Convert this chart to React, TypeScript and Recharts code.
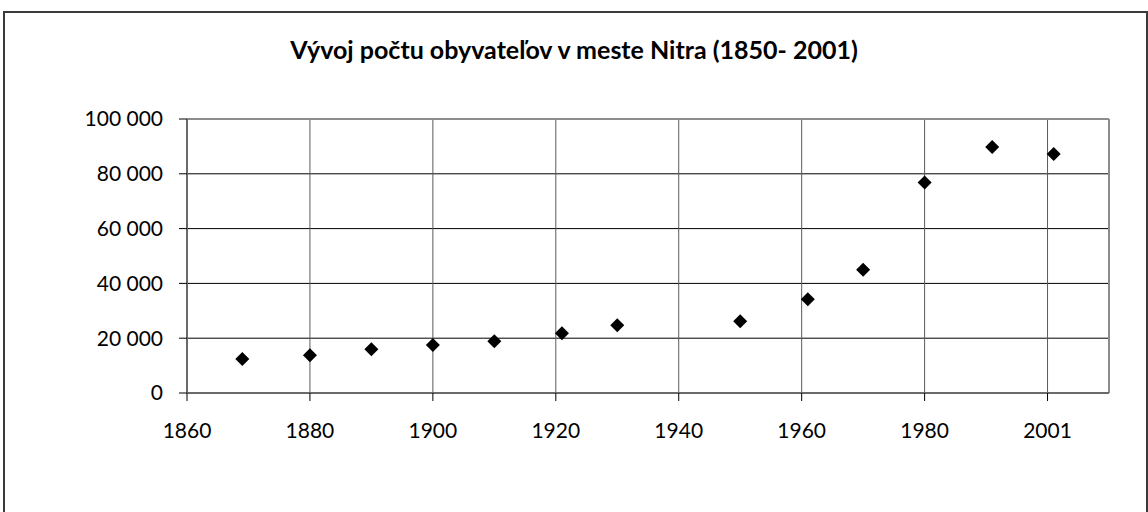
import React from 'react';
import { ScatterChart, Scatter, XAxis, YAxis, CartesianGrid, ReferenceLine } from 'recharts';

const years: number[] = [1869, 1880, 1890, 1900, 1910, 1921, 1930, 1950, 1961, 1970, 1980, 1991, 2001];
const population: number[] = [12400, 13800, 16000, 17500, 18900, 21800, 24700, 26200, 34200, 45000, 76800, 89800, 87200];

const xTicks: number[] = [1860, 1880, 1900, 1920, 1940, 1960, 1980, 2000];
const xTickLabels: string[] = ['1860', '1880', '1900', '1920', '1940', '1960', '1980', '2001'];
const yTicks: number[] = [0, 20000, 40000, 60000, 80000, 100000];

const data = years.map((year, i) => ({ year, value: population[i] }));

const FONT = 'Lato, "Open Sans", sans-serif';

const formatY = (v: number) => (v === 0 ? '0' : `${Math.floor(v / 1000)} ${String(v % 1000).padStart(3, '0')}`);
const formatX = (v: number) => {
  const i = xTicks.indexOf(v);
  return i >= 0 ? xTickLabels[i] : String(v);
};

const Diamond = (props: any) => {
  const { cx, cy } = props;
  const r = 7;
  return <polygon points={`${cx},${cy - r} ${cx + r},${cy} ${cx},${cy + r} ${cx - r},${cy}`} fill="#000" />;
};

const App: React.FC = () => {
  return (
    <div style={{ position: 'absolute', left: 0, top: 0, width: 1148, height: 512, background: '#fff', overflow: 'hidden', fontFamily: FONT }}>
      <div style={{ position: 'absolute', left: 3, top: 11, width: 1141, height: 520, border: '2px solid #3a3a3a' }} />
      <div style={{ position: 'absolute', left: 0, top: 34, width: 1148, textAlign: 'center', fontSize: 25, lineHeight: '30px', fontWeight: 700, color: '#000' }}>
        Vývoj počtu obyvateľov v meste Nitra (1850- 2001)
      </div>
      <div style={{ position: 'absolute', left: 0, top: 0 }}>
        <ScatterChart width={1148} height={512} margin={{ top: 119, right: 39, bottom: 79, left: 107 }}>
          <CartesianGrid horizontal={true} vertical={false} stroke="#000" strokeWidth={1} />
          <CartesianGrid horizontal={false} vertical={true} stroke="#5a5a5a" strokeWidth={1} />
          <XAxis
            type="number"
            dataKey="year"
            domain={[1860, 2010]}
            ticks={xTicks}
            tickFormatter={formatX}
            height={40}
            allowDataOverflow
            stroke="#6a6a6a"
            strokeWidth={2}
            tickSize={8}
            tickMargin={22}
            tickLine={{ stroke: '#000', strokeWidth: 1 }}
            tick={{ fill: '#000', fontSize: 21, fontFamily: FONT }}
          />
          <YAxis
            type="number"
            dataKey="value"
            domain={[0, 100000]}
            ticks={yTicks}
            tickFormatter={formatY}
            width={80}
            allowDataOverflow
            stroke="#6a6a6a"
            strokeWidth={2}
            tickSize={8}
            tickMargin={16}
            tickLine={{ stroke: '#000', strokeWidth: 1 }}
            tick={{ fill: '#000', fontSize: 21, fontFamily: FONT }}
          />
          <ReferenceLine y={100000} stroke="#8c8c8c" strokeWidth={2} />
          <ReferenceLine x={2010} stroke="#8c8c8c" strokeWidth={2} />
          <Scatter data={data} fill="#000" shape={Diamond} isAnimationActive={false} />
        </ScatterChart>
      </div>
    </div>
  );
};

export default App;
